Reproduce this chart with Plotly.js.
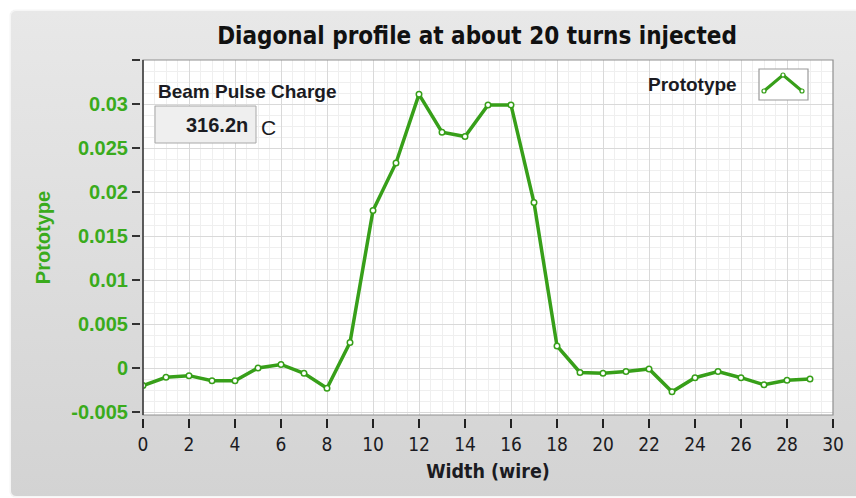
<!DOCTYPE html>
<html>
<head>
<meta charset="utf-8">
<script src="https://cdn.plot.ly/plotly-3.0.1.min.js"></script>
<style>
  html, body { margin: 0; padding: 0; background: #ffffff; width: 856px; height: 498px; overflow: hidden; }
  #panel { position: absolute; left: 10px; top: 10px; width: 870px; height: 485px;
           background: linear-gradient(#e8e8e8, #d3d3d3); border-radius: 6px;
           border: 1px solid #f6f6f6; box-shadow: 0 0 1px #c8c8c8; }
  #chart { position: absolute; left: 0; top: 0; width: 856px; height: 498px; }
</style>
</head>
<body>
<div id="panel"></div>
<div id="chart"></div>
<script>
// ---- data ----
const wire = [0, 1, 2, 3, 4, 5, 6, 7, 8, 9, 10, 11, 12, 13, 14, 15, 16, 17, 18, 19, 20, 21, 22, 23, 24, 25, 26, 27, 28, 29];
const prototype = [-0.0020, -0.00106, -0.00087, -0.00144, -0.00144, 0.0000, 0.0004, -0.0006, -0.0023, 0.0029,
                   0.0179, 0.0233, 0.0311, 0.0268, 0.0263, 0.0299, 0.0299, 0.0188, 0.0025, -0.0005,
                   -0.0006, -0.0004, -0.0001, -0.0027, -0.0011, -0.0004, -0.0011, -0.0019, -0.0014, -0.00125];
const yTickVals = [-0.005, 0, 0.005, 0.01, 0.015, 0.02, 0.025, 0.03, 0.035];
const yTickText = ['-0.005', '0', '0.005', '0.01', '0.015', '0.02', '0.025', '0.03', ''];
const xTickVals = [0, 2, 4, 6, 8, 10, 12, 14, 16, 18, 20, 22, 24, 26, 28, 30];
const chartTitle = 'Diagonal profile at about 20 turns injected';
const xTitle = 'Width (wire)';
const yTitle = 'Prototype';
const seriesName = 'Prototype';
const chargeLabel = 'Beam Pulse Charge';
const chargeValue = '316.2n';
const chargeUnit = 'C';

// ---- layout geometry ----
const W = 856, H = 498;
const M = { l: 140, r: 23, t: 60, b: 80 };
const PW = W - M.l - M.r, PH = H - M.t - M.b;
const px = v => (v - M.l) / PW;          // pixel x -> paper x
const py = v => (H - M.b - v) / PH;      // pixel y -> paper y
const xd0 = px(143), yd0 = py(415);

const green = '#379f19';
const greenText = '#3aab1c';
const dark = '#1b1b22';
const narrow = '"DejaVu Sans Condensed", "Liberation Sans", sans-serif';
const sans = '"Liberation Sans", Arial, sans-serif';

const trace = {
  x: wire, y: prototype, type: 'scatter', mode: 'lines+markers', name: seriesName,
  line: { color: green, width: 3.5 },
  marker: { symbol: 'circle', size: 5.5, color: '#ffffff', line: { color: green, width: 1.5 } },
  showlegend: false, hoverinfo: 'x+y'
};

const shapes = [
  // plot frame
  { type: 'rect', xref: 'paper', yref: 'paper', x0: xd0, x1: 1, y0: yd0, y1: 1,
    line: { color: '#8f8f8f', width: 1.2 }, fillcolor: 'rgba(0,0,0,0)', layer: 'above' },
  { type: 'line', xref: 'paper', yref: 'paper', x0: xd0, x1: xd0, y0: yd0, y1: 1,
    line: { color: '#3c3c3c', width: 1.5 }, layer: 'above' },
  // charge indicator box
  { type: 'rect', xref: 'paper', yref: 'paper', x0: px(155), x1: px(256), y0: py(143), y1: py(106),
    line: { color: '#a8a8a8', width: 1 }, fillcolor: '#efefef', layer: 'above' },
  // legend icon box
  { type: 'rect', xref: 'paper', yref: 'paper', x0: px(759), x1: px(808), y0: py(100), y1: py(69),
    line: { color: '#9a9a9a', width: 1.2 }, fillcolor: '#ffffff', layer: 'above' },
  { type: 'path', xref: 'paper', yref: 'paper',
    path: 'M ' + px(764) + ' ' + py(91) + ' L ' + px(783) + ' ' + py(75) + ' L ' + px(802) + ' ' + py(91),
    line: { color: green, width: 3 }, layer: 'above' },
  { type: 'circle', xref: 'paper', yref: 'paper', x0: px(762), x1: px(766), y0: py(93), y1: py(89),
    line: { color: green, width: 1.2 }, fillcolor: '#ffffff', layer: 'above' },
  { type: 'circle', xref: 'paper', yref: 'paper', x0: px(781), x1: px(785), y0: py(77), y1: py(73),
    line: { color: green, width: 1.2 }, fillcolor: '#ffffff', layer: 'above' },
  { type: 'circle', xref: 'paper', yref: 'paper', x0: px(800), x1: px(804), y0: py(93), y1: py(89),
    line: { color: green, width: 1.2 }, fillcolor: '#ffffff', layer: 'above' }
];

const annotations = [
  { text: '<b>' + chargeLabel + '</b>', xref: 'paper', yref: 'paper', x: px(156), y: py(91),
    xanchor: 'left', yanchor: 'middle', showarrow: false, font: { family: sans, size: 19, color: dark } },
  { text: '<b>' + chargeValue + '</b>', xref: 'paper', yref: 'paper', x: px(250), y: py(125),
    xanchor: 'right', yanchor: 'middle', showarrow: false, font: { family: sans, size: 20, color: dark } },
  { text: chargeUnit, xref: 'paper', yref: 'paper', x: px(259), y: py(127),
    xanchor: 'left', yanchor: 'middle', showarrow: false, font: { family: sans, size: 21, color: dark } },
  { text: '<b>' + seriesName + '</b>', xref: 'paper', yref: 'paper', x: px(739), y: py(84),
    xanchor: 'right', yanchor: 'middle', showarrow: false, font: { family: sans, size: 19, color: dark } }
];

const layout = {
  width: W, height: H,
  margin: M,
  paper_bgcolor: 'rgba(0,0,0,0)',
  plot_bgcolor: '#ffffff',
  showlegend: false,
  title: { text: '<b>' + chartTitle + '</b>', x: 477 / W, xanchor: 'center', y: 1 - 36 / H, yanchor: 'middle',
           font: { family: narrow, size: 24, color: '#111111' } },
  xaxis: {
    domain: [xd0, 1], range: [0, 30], anchor: 'free', position: 0,
    tickmode: 'array', tickvals: xTickVals, ticks: 'outside', ticklen: 9, tickwidth: 1.5, tickcolor: '#222',
    tickfont: { family: narrow, size: 19, color: dark },
    showgrid: true, gridcolor: '#d9d9d9', gridwidth: 1,
    minor: { dtick: 0.5, showgrid: true, gridcolor: '#efefef', gridwidth: 1, ticks: '' },
    zeroline: false, showline: false,
    title: { text: '<b>' + xTitle + '</b>', font: { family: narrow, size: 19.5, color: dark }, standoff: 10 }
  },
  yaxis: {
    domain: [yd0, 1], range: [-0.00534, 0.035], anchor: 'free', position: 0,
    tickmode: 'array', tickvals: yTickVals, ticktext: yTickText, ticks: 'outside', ticklen: 8, tickwidth: 2, tickcolor: '#333',
    tickfont: { family: sans, size: 20, color: greenText, weight: 'bold' },
    showgrid: true, gridcolor: '#d9d9d9', gridwidth: 1,
    minor: { dtick: 0.00125, showgrid: true, gridcolor: '#efefef', gridwidth: 1, ticks: '' },
    zeroline: false, showline: false,
    title: { text: '<b>' + yTitle + '</b>', font: { family: sans, size: 20, color: greenText }, standoff: 14 }
  },
  shapes: shapes,
  annotations: annotations
};

Plotly.newPlot('chart', [trace], layout, { displayModeBar: false, staticPlot: true });
</script>
</body>
</html>
